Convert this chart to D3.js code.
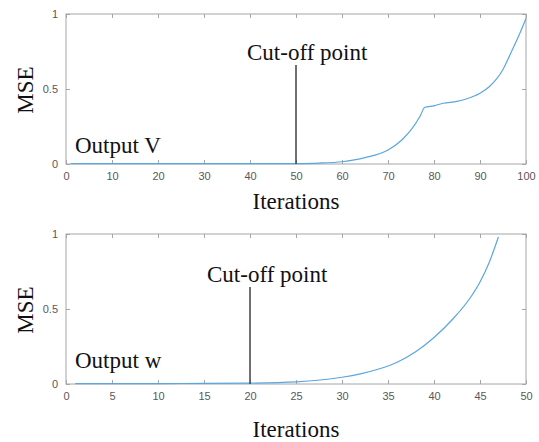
<html>
<head>
<meta charset="utf-8">
<script src="https://cdnjs.cloudflare.com/ajax/libs/d3/7.8.5/d3.min.js"></script>
<style>
body { margin: 0; background: #fff; }
.tick text { font: 11px Arial, "Liberation Sans", sans-serif; fill: #595959; }
.serif { font-family: "Liberation Serif", "Times New Roman", serif; fill: #111; }
</style>
</head>
<body>
<svg id="chart" width="539" height="442"></svg>
<script>
// top panel: output V
var iterV = [1, 10, 20, 30, 40, 50, 55, 60, 65, 70, 73, 75, 77, 78, 80, 82, 85, 87, 90, 92, 95, 97, 98.5, 100];
var mseV  = [0.002, 0.002, 0.002, 0.002, 0.002, 0.003, 0.006, 0.015, 0.042, 0.093, 0.16, 0.227, 0.32, 0.378, 0.388, 0.405, 0.417, 0.433, 0.471, 0.515, 0.63, 0.76, 0.86, 0.97];
var ticksV = [0, 10, 20, 30, 40, 50, 60, 70, 80, 90, 100];

// bottom panel: output w
var iterW = [1, 5, 10, 15, 20, 25, 30, 32, 34, 36, 38, 40, 42, 44, 45, 46, 47];
var mseW  = [0.002, 0.002, 0.003, 0.004, 0.006, 0.014, 0.045, 0.068, 0.1, 0.145, 0.215, 0.31, 0.43, 0.58, 0.68, 0.81, 0.98];
var ticksW = [0, 5, 10, 15, 20, 25, 30, 35, 40, 45, 50];

var yTicks = [0, 0.5, 1];

var svg = d3.select("#chart");

function panel(top, xs, ys, xMax, xTicks, cutoff, label, labelY, cutX, cutY, titleY) {
  var left = 66, right = 526, h = 150;
  var x = d3.scaleLinear().domain([0, xMax]).range([left, right]);
  var y = d3.scaleLinear().domain([0, 1]).range([top + h, top]);
  var g = svg.append("g");

  // box
  g.append("rect")
    .attr("x", left).attr("y", top)
    .attr("width", right - left).attr("height", h)
    .attr("fill", "none").attr("stroke", "#a6a6a6").attr("stroke-width", 1);

  var xa = g.append("g").attr("transform", "translate(0," + (top + h) + ")")
    .call(d3.axisBottom(x).tickValues(xTicks).tickSize(-4).tickPadding(8).tickFormat(d3.format("d")));
  var xt = g.append("g").attr("transform", "translate(0," + top + ")")
    .call(d3.axisTop(x).tickValues(xTicks).tickSize(-4).tickFormat(""));
  var ya = g.append("g").attr("transform", "translate(" + left + ",0)")
    .call(d3.axisLeft(y).tickValues(yTicks).tickSize(-4).tickPadding(8).tickFormat(function(d) { return d; }));
  var yr = g.append("g").attr("transform", "translate(" + right + ",0)")
    .call(d3.axisRight(y).tickValues(yTicks).tickSize(-4).tickFormat(""));
  [xa, xt, ya, yr].forEach(function(a) {
    a.select(".domain").remove();
    a.selectAll("line").attr("stroke", "#a6a6a6");
  });

  // curve
  g.append("path")
    .datum(d3.zip(xs, ys))
    .attr("fill", "none")
    .attr("stroke", "#5aa6dd")
    .attr("stroke-width", 1.2)
    .attr("d", d3.line().curve(d3.curveMonotoneX).x(function(d) { return x(d[0]); }).y(function(d) { return y(d[1]); }));

  // cut-off marker
  g.append("line")
    .attr("x1", x(cutoff)).attr("x2", x(cutoff))
    .attr("y1", cutY + 5).attr("y2", top + h)
    .attr("stroke", "#404040").attr("stroke-width", 1.5);
  g.append("text").attr("class", "serif")
    .attr("x", cutX).attr("y", cutY)
    .attr("font-size", 23)
    .text("Cut-off point");

  g.append("text").attr("class", "serif")
    .attr("x", 75).attr("y", labelY)
    .attr("font-size", 23).text(label);

  g.append("text").attr("class", "serif")
    .attr("transform", "translate(33," + (top + h / 2 + 1) + ") rotate(-90)")
    .attr("text-anchor", "middle").attr("font-size", 23).text("MSE");

  g.append("text").attr("class", "serif")
    .attr("x", (left + right) / 2).attr("y", titleY)
    .attr("text-anchor", "middle").attr("font-size", 23).text("Iterations");
}

panel(14, iterV, mseV, 100, ticksV, 50, "Output V", 153, 247, 60, 209);
panel(234, iterW, mseW, 50, ticksW, 20, "Output w", 368, 207, 282, 437);
</script>
</body>
</html>
